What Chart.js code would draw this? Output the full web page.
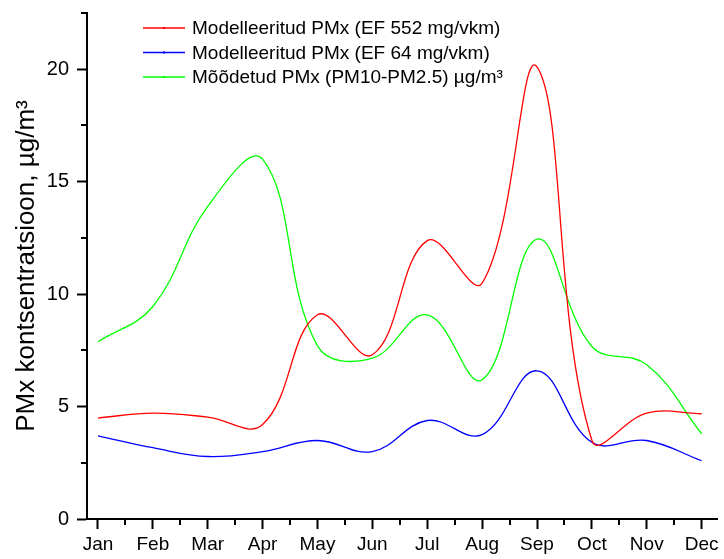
<!DOCTYPE html>
<html>
<head>
<meta charset="utf-8">
<script src="https://cdn.jsdelivr.net/npm/chart.js@4/dist/chart.umd.min.js"></script>
<style>
  html, body { margin: 0; padding: 0; background: #fff; }
  #wrap { width: 724px; height: 559px; }
</style>
</head>
<body>
<div id="wrap"><canvas id="myChart" width="724" height="559"></canvas></div>
<script>
/* global Chart */

const months = ['Jan', 'Feb', 'Mar', 'Apr', 'May', 'Jun', 'Jul', 'Aug', 'Sep', 'Oct', 'Nov', 'Dec'];
const yTicks = [0, 5, 10, 15, 20];

// monthly PMx concentrations, µg/m³
const modelled552 = [4.49, 4.71, 4.53, 4.2, 9.08, 7.3, 12.38, 10.49, 20.1, 3.5, 4.71, 4.68];
const modelled64 = [3.7, 3.17, 2.78, 3.0, 3.49, 3.0, 4.38, 3.75, 6.59, 3.41, 3.49, 2.59];
const measured = [7.88, 9.45, 13.9, 16.0, 7.7, 7.15, 9.08, 6.19, 12.44, 7.67, 6.86, 3.79];

const toPoints = arr => arr.map((v, i) => ({ x: i, y: v }));
const FONT = "'Liberation Sans', Arial, sans-serif";

// half-step ticks on both axes + legend in the upper left
const extras = {
    id: 'extras',
    afterDraw: function (chart) {
        const ctx = chart.ctx;
        const xs = chart.scales.x;
        const ys = chart.scales.y;
        ctx.save();
        ctx.strokeStyle = '#000';
        ctx.lineWidth = 2;
        ctx.beginPath();
        for (let i = 0; i < months.length - 1; i++) {
            const px = Math.round(xs.getPixelForValue(i + 0.5));
            ctx.moveTo(px, ys.bottom);
            ctx.lineTo(px, ys.bottom + 6);
        }
        for (let v = 2.5; v <= ys.max; v += 5) {
            const py = Math.round(ys.getPixelForValue(v));
            ctx.moveTo(xs.left, py);
            ctx.lineTo(xs.left - 6, py);
        }
        ctx.stroke();

        ctx.font = '19px ' + FONT;
        ctx.textBaseline = 'middle';
        ctx.textAlign = 'left';
        chart.data.datasets.forEach((ds, k) => {
            const y = 28 + k * 24.5;
            ctx.strokeStyle = ds.borderColor;
            ctx.lineWidth = 1.3;
            ctx.beginPath();
            ctx.moveTo(143, y);
            ctx.lineTo(185, y);
            ctx.stroke();
            ctx.fillStyle = ds.borderColor;
            ctx.fillRect(163, y - 1, 2, 2);
            ctx.fillStyle = '#000';
            ctx.fillText(ds.label, 192, y + 1);
        });
        ctx.restore();
    }
};

const myChart = new Chart(document.getElementById('myChart'), {
    type: 'line',
    data: {
        datasets: [
            { label: 'Modelleeritud PMx (EF 552 mg/vkm)', data: toPoints(modelled552), borderColor: '#ff0000' },
            { label: 'Modelleeritud PMx (EF 64 mg/vkm)', data: toPoints(modelled64), borderColor: '#0000ff' },
            { label: 'Mõõdetud PMx (PM10-PM2.5) µg/m³', data: toPoints(measured), borderColor: '#00ff00' },
        ]
    },
    options: {
        responsive: false,
        animation: false,
        devicePixelRatio: 1,
        layout: { padding: { top: 13, right: 7, left: 0, bottom: 0 } },
        elements: {
            line: { borderWidth: 1.3, tension: 0.4, fill: false },
            point: { radius: 0, hoverRadius: 0 }
        },
        plugins: {
            legend: { display: false },
            tooltip: { enabled: false }
        },
        scales: {
            x: {
                type: 'linear',
                min: -0.2,
                max: 11.28,
                afterBuildTicks: s => { s.ticks = months.map((m, i) => ({ value: i })); },
                afterFit: s => { s.height = 40; s.paddingLeft = 0; s.paddingRight = 0; },
                border: { display: true, color: '#000', width: 2 },
                grid: { drawOnChartArea: false, drawTicks: true, tickLength: 10, tickColor: '#000', tickWidth: 2 },
                ticks: {
                    autoSkip: false,
                    maxRotation: 0,
                    padding: 4,
                    color: '#000',
                    font: { family: FONT, size: 19 },
                    callback: v => months[v]
                }
            },
            y: {
                min: 0,
                max: 22.5,
                afterBuildTicks: s => { s.ticks = yTicks.map(v => ({ value: v })); },
                afterFit: s => { s.width = 87; s.paddingTop = 0; s.paddingBottom = 0; },
                border: { display: true, color: '#000', width: 2 },
                grid: { drawOnChartArea: false, drawTicks: true, tickLength: 10, tickColor: '#000', tickWidth: 2 },
                ticks: {
                    padding: 8,
                    color: '#000',
                    font: { family: FONT, size: 20 }
                },
                title: {
                    display: true,
                    text: 'PMx kontsentratsioon, µg/m³',
                    color: '#000',
                    font: { family: FONT, size: 26 },
                    padding: { top: 11, bottom: 0 }
                }
            }
        }
    },
    plugins: [extras]
});
</script>
</body>
</html>
